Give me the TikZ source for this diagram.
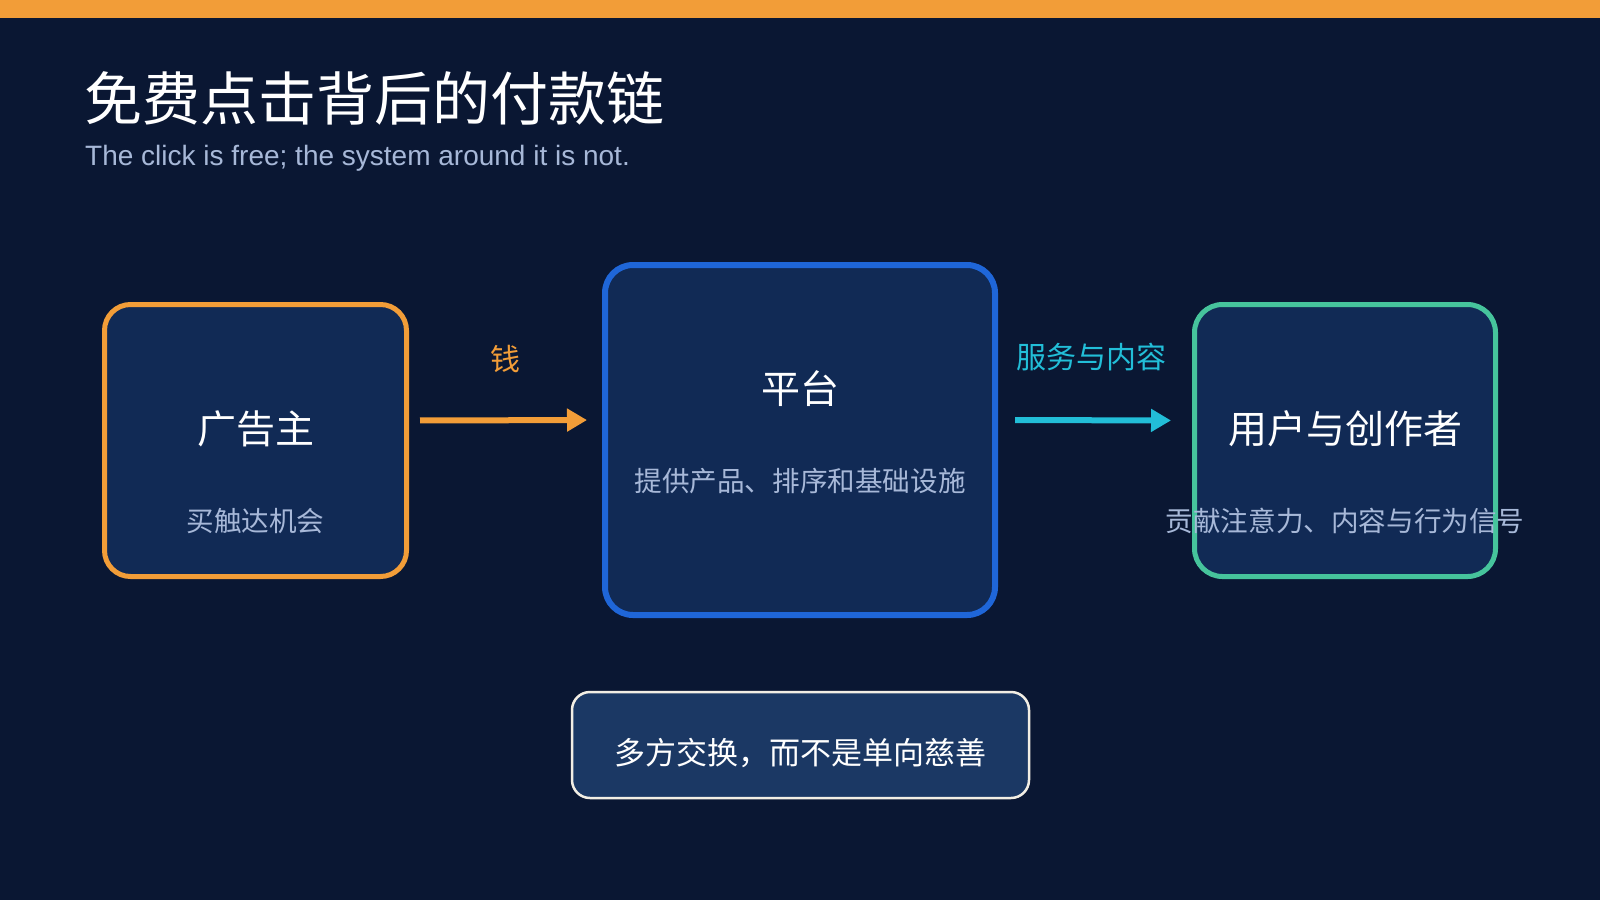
\documentclass[tikz,border=0pt]{standalone}
\usepackage{fontspec}
\setmainfont{Liberation Sans}
\newfontfamily\cjk{Noto Sans CJK SC}
\usetikzlibrary{arrows.meta,calc}
\definecolor{bgnavy}{HTML}{0A1733}
\definecolor{boxnavy}{HTML}{112A55}
\definecolor{notenavy}{HTML}{1B3864}
\definecolor{accorange}{HTML}{F29D38}
\definecolor{accblue}{HTML}{1F66D8}
\definecolor{accgreen}{HTML}{46C49C}
\definecolor{acccyan}{HTML}{22BED8}
\definecolor{softgray}{HTML}{A7B8D8}
\definecolor{cream}{HTML}{F2EEE4}
\tikzset{
  party/.style={draw, fill=boxnavy, rounded corners=26pt, inner sep=0pt},
  boxtitle/.style={text=white, font=\cjk\fontsize{39}{44}\selectfont, inner sep=0pt},
  boxsub/.style={text=softgray, font=\cjk\fontsize{27.6}{32}\selectfont, inner sep=0pt},
  flow/.style={line width=6pt, -{Triangle[length=20pt,width=22pt]}},
  flowlabel/.style={font=\cjk\fontsize{30}{34}\selectfont, inner sep=0pt}
}
\begin{document}
\begin{tikzpicture}[x=1pt,y=-1pt]
\fill[bgnavy] (0,0) rectangle (1600,900);
\useasboundingbox (0,0) rectangle (1600,900);
\fill[accorange] (0,0) rectangle (1600,18);

\node[anchor=west, text=white, inner sep=0pt, font=\cjk\fontsize{58}{66}\selectfont] (title) at (84,98) {免费点击背后的付款链};
\node[anchor=west, text=softgray, inner sep=0pt, font=\fontsize{28}{32}\selectfont] (subtitle) at (85,158) {The click is free; the system around it is not.};

\node[party, draw=accorange, line width=5pt, minimum width=302pt, minimum height=272pt] (adv) at (255.5,440.5) {};
\node[party, draw=accblue, line width=6pt, rounded corners=28pt, minimum width=390pt, minimum height=350pt] (plat) at (800,440) {};
\node[party, draw=accgreen, line width=5pt, rounded corners=28pt, minimum width=301pt, minimum height=272pt] (users) at (1345,440.5) {};

\node[boxtitle] (advT) at ([yshift=-127pt]adv.north) {广告主};
\node[boxsub] (advS) at ([yshift=-219pt]adv.north) {买触达机会};
\node[boxtitle] (platT) at ([yshift=-127pt]plat.north) {平台};
\node[boxsub] (platS) at ([yshift=-219pt]plat.north) {提供产品、排序和基础设施};
\node[boxtitle] (usersT) at ([yshift=-127pt]users.north) {用户与创作者};
\node[boxsub] (usersS) at ([yshift=-219pt]users.north) {贡献注意力、内容与行为信号};

\draw[flow, accorange, shorten <=11pt, shorten >=15pt] ([yshift=20pt]adv.east) -- ([yshift=20pt]plat.west);
\node[flowlabel, text=accorange] (money) at ([yshift=81pt]$(adv.east)!0.5!(plat.west)$) {钱};
\draw[flow, acccyan, shorten <=17pt, shorten >=21pt] ([yshift=20pt]plat.east) -- ([yshift=20pt]users.west);
\node[flowlabel, text=acccyan] (service) at ([xshift=-4pt,yshift=83pt]$(plat.east)!0.5!(users.west)$) {服务与内容};

\node[draw=cream, line width=2.5pt, fill=notenavy, rounded corners=18pt, minimum width=457pt, minimum height=106pt] (note) at (800.5,745) {};
\node[text=white, inner sep=0pt, font=\cjk\fontsize{31}{36}\selectfont] (noteT) at ([yshift=-8pt]note.center) {多方交换，而不是单向慈善};
\end{tikzpicture}
\end{document}
